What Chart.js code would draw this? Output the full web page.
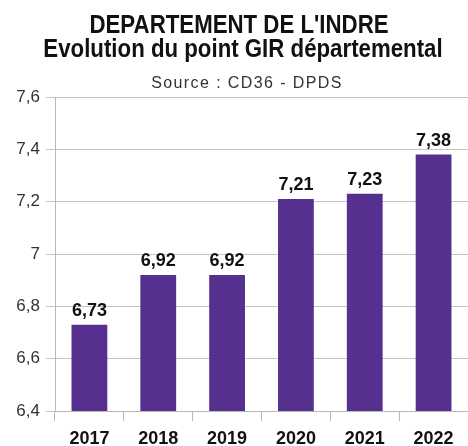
<!DOCTYPE html>
<html>
<head>
<meta charset="utf-8">
<script src="https://cdn.jsdelivr.net/npm/chart.js@4/dist/chart.umd.min.js"></script>
<style>
    html, body { margin: 0; padding: 0; background: #ffffff; }
    #girWrap { width: 468px; height: 446px; }
</style>
</head>
<body>
<div id="girWrap">
    <canvas id="girChart" width="468" height="446"></canvas>
</div>
<script>
const years = ['2017', '2018', '2019', '2020', '2021', '2022'];
const pointGir = [6.73, 6.92, 6.92, 7.21, 7.23, 7.38];
const titleLines = ['DEPARTEMENT DE L\'INDRE', 'Evolution du point GIR départemental'];
const subtitleText = 'Source : CD36 - DPDS';

const fontName = '"Liberation Sans", Arial, sans-serif';

function frNumber(v) {
    return String(Number(v.toFixed(2))).replace('.', ',');
}

// values on top of the bars
const barValueLabels = {
    id: 'barValueLabels',
    afterDatasetsDraw(chart) {
        let ctx = chart.ctx;
        let meta = chart.getDatasetMeta(0);
        ctx.save();
        ctx.font = 'bold 18px ' + fontName;
        ctx.fillStyle = '#111111';
        ctx.textAlign = 'center';
        ctx.textBaseline = 'alphabetic';
        meta.data.forEach((bar, i) => {
            ctx.fillText(frNumber(pointGir[i]), bar.x, bar.y - 9);
        });
        ctx.restore();
    }
};

// title block: the original is a tall, slightly squeezed bold face,
// the source line is spaced out
const titleBlock = {
    id: 'titleBlock',
    afterDraw(chart) {
        let ctx = chart.ctx;
        ctx.save();
        ctx.fillStyle = '#111111';
        ctx.textAlign = 'center';
        ctx.textBaseline = 'alphabetic';
        ctx.font = 'bold 25px ' + fontName;
        let centers = [239, 243];
        let baselines = [33, 57];
        titleLines.forEach((line, i) => {
            ctx.save();
            ctx.translate(centers[i], baselines[i]);
            ctx.scale(0.89, 1);
            ctx.fillText(line, 0, 0);
            ctx.restore();
        });
        ctx.font = '16px ' + fontName;
        ctx.fillStyle = '#333333';
        ctx.letterSpacing = '1.4px';
        ctx.fillText(subtitleText, 247, 88);
        ctx.restore();
    }
};

let ctx = document.getElementById('girChart');
new Chart(ctx, {
    type: 'bar',
    data: {
        labels: years,
        datasets: [{
            data: pointGir,
            backgroundColor: '#56308e',
            borderWidth: 0,
            categoryPercentage: 1,
            barPercentage: 0.52
        }]
    },
    options: {
        responsive: false,
        animation: false,
        layout: {
            padding: {left: 0, right: 0, top: 97, bottom: 0}
        },
        scales: {
            x: {
                grid: {
                    offset: true,
                    drawOnChartArea: false,
                    drawTicks: true,
                    tickLength: 10,
                    color: '#b8b8b8'
                },
                border: {display: true, color: '#b8b8b8'},
                ticks: {
                    color: '#111111',
                    padding: 7,
                    font: {family: fontName, size: 18, weight: 'bold'}
                },
                afterFit: (scale) => { scale.height = 35; }
            },
            y: {
                min: 6.4,
                max: 7.6,
                ticks: {
                    stepSize: 0.2,
                    color: '#333333',
                    padding: 6,
                    font: {family: fontName, size: 17},
                    callback: (v) => frNumber(v)
                },
                grid: {
                    color: '#c4c4c4',
                    tickLength: 9
                },
                border: {display: true, color: '#b8b8b8'},
                afterFit: (scale) => { scale.width = 55; }
            }
        },
        plugins: {
            legend: {display: false},
            tooltip: {enabled: false},
            title: {display: false},
            subtitle: {display: false}
        }
    },
    plugins: [barValueLabels, titleBlock]
});
</script>
</body>
</html>
